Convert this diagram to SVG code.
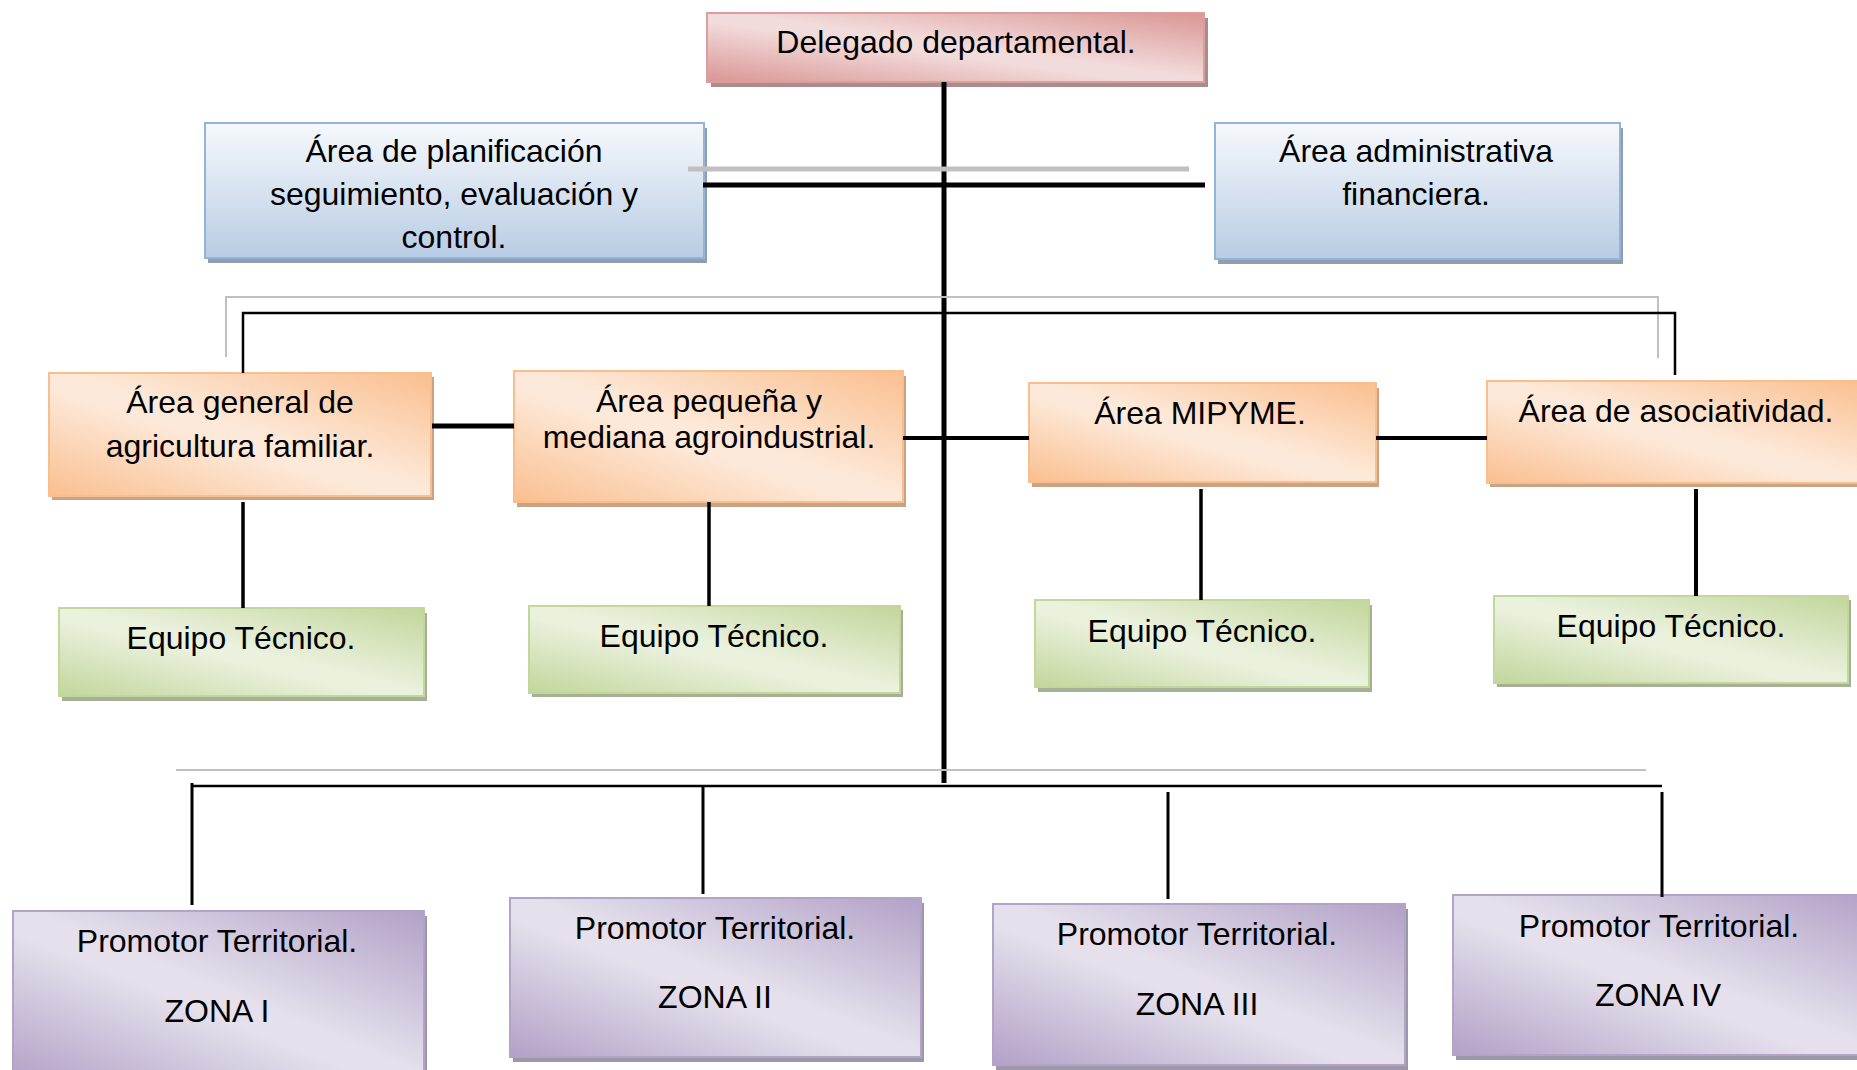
<svg xmlns="http://www.w3.org/2000/svg" width="1857" height="1070" viewBox="0 0 1857 1070">
<defs>
<style>
.t{font-family:"Liberation Sans",Arial,sans-serif;font-size:32px;fill:#000;text-anchor:middle}
.bk{stroke:#000;fill:none}
.gr{stroke:#c0c0c0;fill:none}
.pink{fill:url(#gPink);stroke:#dc9e9d;stroke-width:2}
.blue{fill:url(#gBlue);stroke:#95b3d7;stroke-width:2}
.orange{fill:url(#gOrange);stroke:#f9be8e;stroke-width:2}
.green{fill:url(#gGreen);stroke:#c3d69b;stroke-width:2}
.purple{fill:url(#gPurple);stroke:#b3a3c8;stroke-width:2}
.shp{fill:#a98d8d}.shb{fill:#8f9db1}.sho{fill:#c9a385}.shg{fill:#a7b095}.shu{fill:#9d98a7}
</style>
<linearGradient id="gPink" x1="1" y1="0" x2="0" y2="1">
<stop offset="0" stop-color="#d99594"/><stop offset="0.48" stop-color="#f2dcdb"/><stop offset="0.56" stop-color="#f2dcdb"/><stop offset="1" stop-color="#d99594"/>
</linearGradient>
<linearGradient id="gBlue" x1="0" y1="0" x2="0" y2="1">
<stop offset="0" stop-color="#f6f9fc"/><stop offset="1" stop-color="#b8cce4"/>
</linearGradient>
<linearGradient id="gOrange" x1="1" y1="0" x2="0" y2="1">
<stop offset="0" stop-color="#fabf8f"/><stop offset="0.48" stop-color="#fde9d9"/><stop offset="0.56" stop-color="#fde9d9"/><stop offset="1" stop-color="#fabf8f"/>
</linearGradient>
<linearGradient id="gGreen" x1="1" y1="0" x2="0" y2="1">
<stop offset="0" stop-color="#c2d69b"/><stop offset="0.48" stop-color="#eaf1dd"/><stop offset="0.56" stop-color="#eaf1dd"/><stop offset="1" stop-color="#c2d69b"/>
</linearGradient>
<linearGradient id="gPurple" x1="1" y1="0" x2="0" y2="1">
<stop offset="0" stop-color="#b2a1c7"/><stop offset="0.48" stop-color="#e5e0ec"/><stop offset="0.56" stop-color="#e5e0ec"/><stop offset="1" stop-color="#b2a1c7"/>
</linearGradient>
</defs>
<rect width="1857" height="1070" fill="#fff"/>

<g id="delegado">
<rect class="shp" x="711" y="18" width="497" height="69"/>
<rect class="pink" x="707" y="13" width="497" height="69"/>
<text class="t" x="956" y="53">Delegado departamental.</text>
</g>

<g id="planificacion">
<rect class="shb" x="208" y="128" width="499" height="135"/>
<rect class="blue" x="205" y="123" width="499" height="135"/>
<text class="t" x="454" y="162">Área de planificación</text>
<text class="t" x="454" y="205">seguimiento, evaluación y</text>
<text class="t" x="454" y="248">control.</text>
</g>

<g id="administrativa">
<rect class="shb" x="1218" y="128" width="405" height="136"/>
<rect class="blue" x="1215" y="123" width="405" height="136"/>
<text class="t" x="1416" y="162">Área administrativa</text>
<text class="t" x="1416" y="205">financiera.</text>
</g>

<g id="agricultura">
<rect class="sho" x="52" y="377" width="382" height="123"/>
<rect class="orange" x="49" y="373" width="382" height="123"/>
<text class="t" x="240" y="413">Área general de</text>
<text class="t" x="240" y="457">agricultura familiar.</text>
</g>

<g id="agroindustrial">
<rect class="sho" x="517" y="376" width="389" height="131"/>
<rect class="orange" x="514" y="371" width="389" height="131"/>
<text class="t" x="709" y="412">Área pequeña y</text>
<text class="t" x="709" y="448">mediana agroindustrial.</text>
</g>

<g id="mipyme">
<rect class="sho" x="1032" y="388" width="347" height="99"/>
<rect class="orange" x="1029" y="383" width="347" height="99"/>
<text class="t" x="1200" y="424">Área MIPYME.</text>
</g>

<g id="asociatividad">
<rect class="sho" x="1490" y="386" width="380" height="101"/>
<rect class="orange" x="1487" y="381" width="380" height="102"/>
<text class="t" x="1676" y="422">Área de asociatividad.</text>
</g>

<g id="equipo1">
<rect class="shg" x="62" y="613" width="365" height="88"/>
<rect class="green" x="59" y="608" width="365" height="88"/>
<text class="t" x="241" y="649">Equipo Técnico.</text>
</g>

<g id="equipo2">
<rect class="shg" x="532" y="610" width="371" height="87"/>
<rect class="green" x="529" y="606" width="371" height="87"/>
<text class="t" x="714" y="647">Equipo Técnico.</text>
</g>

<g id="equipo3">
<rect class="shg" x="1038" y="605" width="334" height="87"/>
<rect class="green" x="1035" y="600" width="334" height="87"/>
<text class="t" x="1202" y="642">Equipo Técnico.</text>
</g>

<g id="equipo4">
<rect class="shg" x="1497" y="600" width="354" height="87"/>
<rect class="green" x="1494" y="596" width="354" height="87"/>
<text class="t" x="1671" y="637">Equipo Técnico.</text>
</g>

<g id="zona1">
<rect class="shu" x="16" y="916" width="411" height="170"/>
<rect class="purple" x="13" y="911" width="411" height="170"/>
<text class="t" x="217" y="952">Promotor Territorial.</text>
<text class="t" x="217" y="1022">ZONA I</text>
</g>

<g id="zona2">
<rect class="shu" x="513" y="903" width="411" height="159"/>
<rect class="purple" x="510" y="898" width="411" height="159"/>
<text class="t" x="715" y="939">Promotor Territorial.</text>
<text class="t" x="715" y="1008">ZONA II</text>
</g>

<g id="zona3">
<rect class="shu" x="996" y="909" width="412" height="161"/>
<rect class="purple" x="993" y="904" width="412" height="161"/>
<text class="t" x="1197" y="945">Promotor Territorial.</text>
<text class="t" x="1197" y="1015">ZONA III</text>
</g>

<g id="zona4">
<rect class="shu" x="1456" y="900" width="420" height="160"/>
<rect class="purple" x="1453" y="895" width="420" height="160"/>
<text class="t" x="1659" y="937">Promotor Territorial.</text>
<text class="t" x="1658" y="1006">ZONA IV</text>
</g>

<g id="connectors">
<line class="bk" x1="944" y1="82" x2="944" y2="783" stroke-width="5"/>
<line class="gr" x1="688" y1="169" x2="1189" y2="169" stroke-width="5"/>
<line class="bk" x1="703" y1="185" x2="1205" y2="185" stroke-width="5"/>
<path class="gr" d="M226,357 V297 H1658 V358" stroke-width="2"/>
<path class="bk" d="M243,373 V313 H1675 V375" stroke-width="2.5"/>
<line class="bk" x1="432" y1="426" x2="514" y2="426" stroke-width="5"/>
<line class="bk" x1="903" y1="438" x2="944" y2="438" stroke-width="4"/>
<line class="bk" x1="944" y1="438" x2="1029" y2="438" stroke-width="4"/>
<line class="bk" x1="1376" y1="438" x2="1487" y2="438" stroke-width="4"/>
<line class="bk" x1="243" y1="502" x2="243" y2="608" stroke-width="3.5"/>
<line class="bk" x1="709" y1="502" x2="709" y2="606" stroke-width="3.5"/>
<line class="bk" x1="1201" y1="489" x2="1201" y2="600" stroke-width="3.5"/>
<line class="bk" x1="1696" y1="489" x2="1696" y2="596" stroke-width="4"/>
<line class="gr" x1="176" y1="770" x2="1646" y2="770" stroke-width="2"/>
<line class="bk" x1="192" y1="786" x2="1662" y2="786" stroke-width="2.5"/>
<line class="bk" x1="192" y1="783" x2="192" y2="905" stroke-width="3"/>
<line class="bk" x1="703" y1="786" x2="703" y2="894" stroke-width="3"/>
<line class="bk" x1="1168" y1="792" x2="1168" y2="899" stroke-width="3"/>
<line class="bk" x1="1662" y1="792" x2="1662" y2="897" stroke-width="3"/>
</g>
</svg>
